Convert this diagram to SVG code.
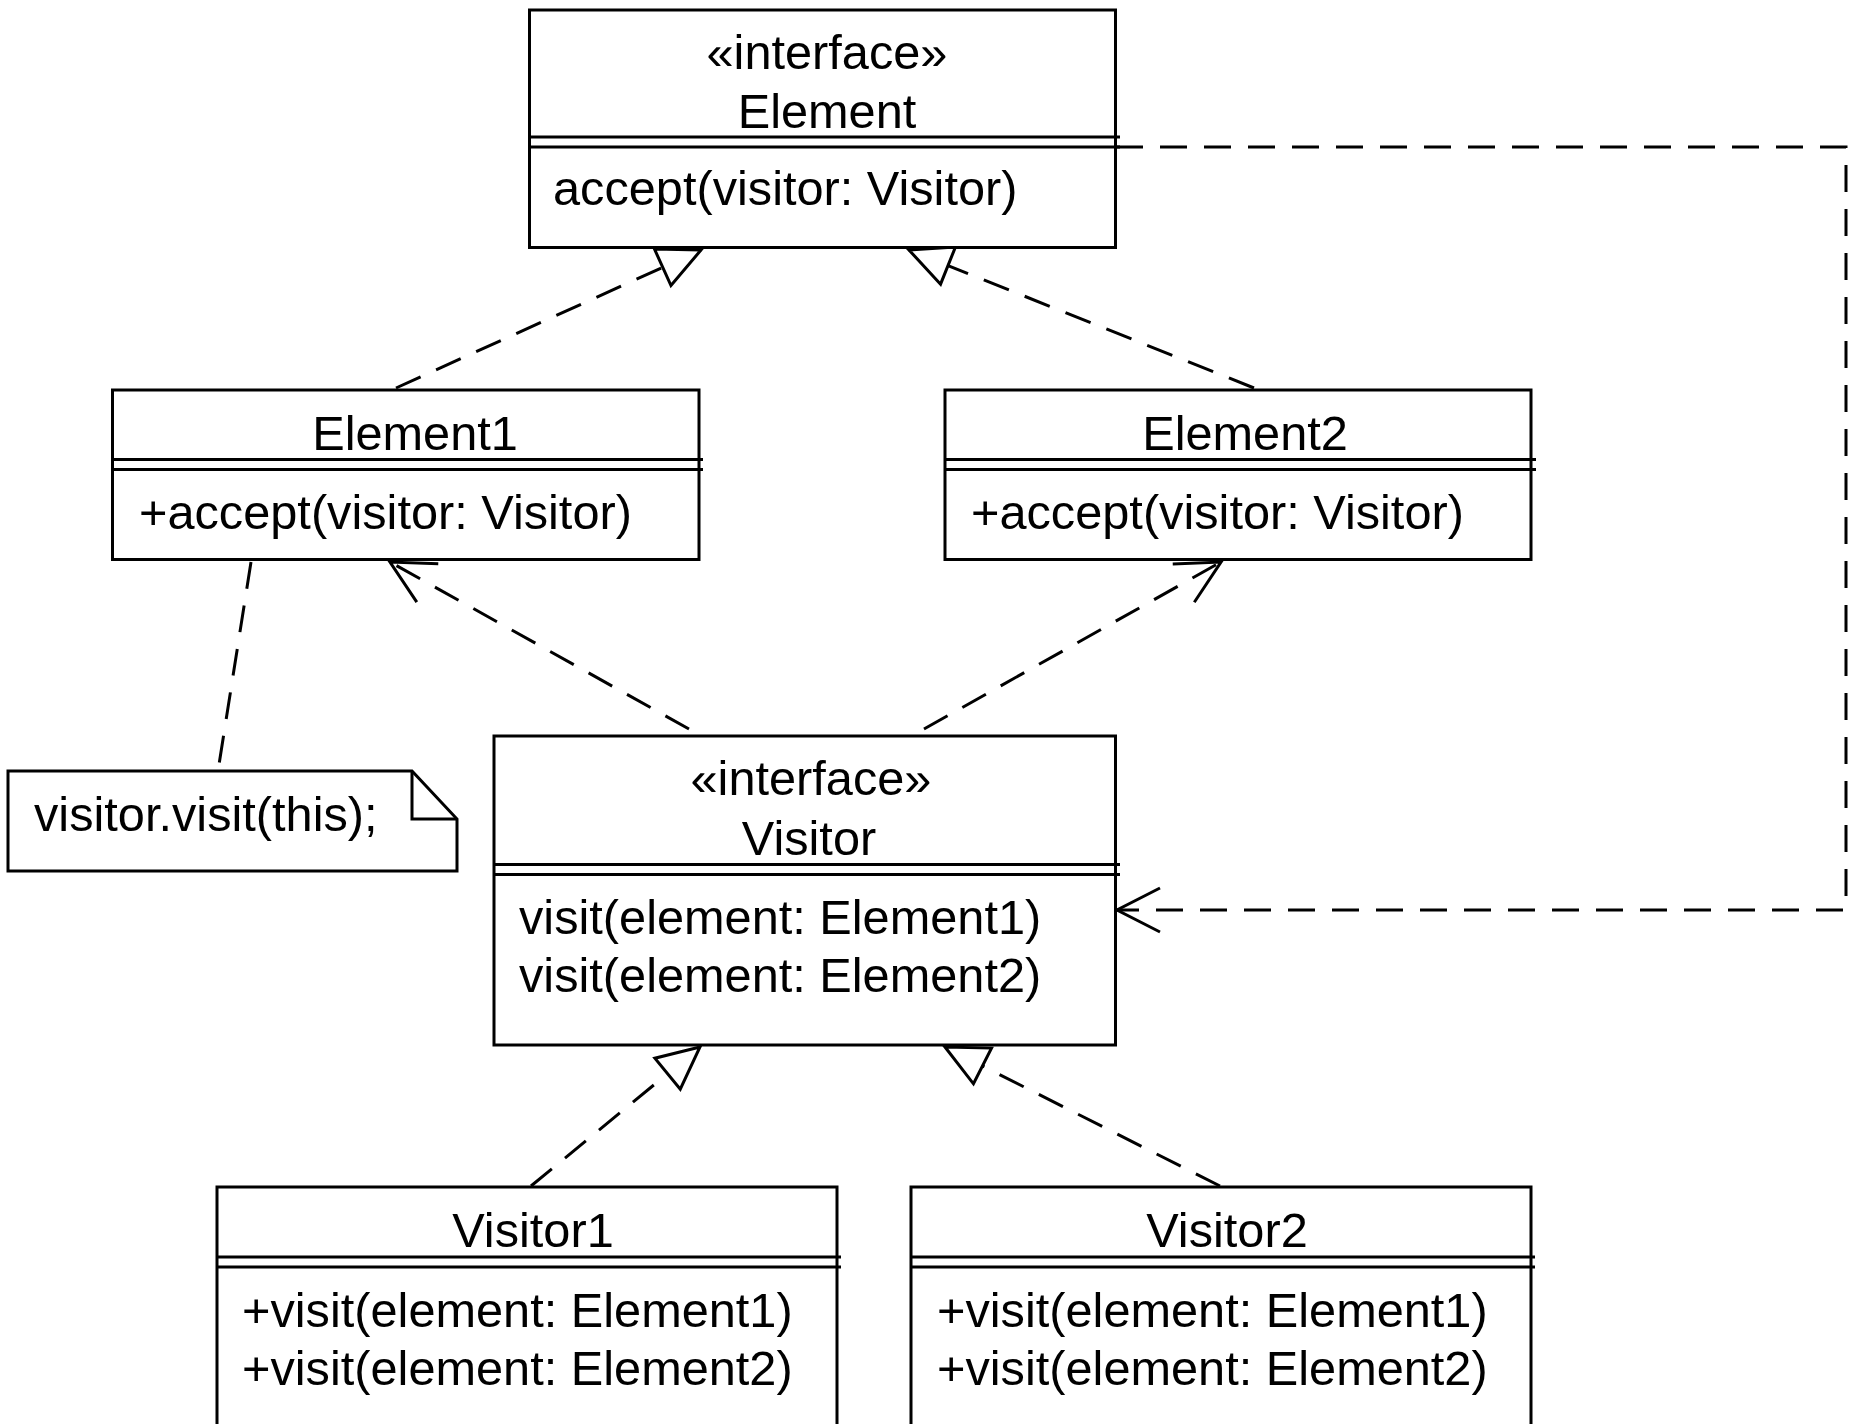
<svg xmlns="http://www.w3.org/2000/svg" width="1855" height="1424" viewBox="0 0 1855 1424">
  <style>
    .box { fill: #ffffff; stroke: #000000; stroke-width: 3; }
    .sep { stroke: #000000; stroke-width: 3; fill: none; }
    .txt { font-family: "Liberation Sans", Arial, sans-serif; font-size: 48.7px; fill: #000000; }
    .mid { text-anchor: middle; }
    .dash { fill: none; stroke: #000000; stroke-width: 3; stroke-dasharray: 27 17; }
  </style>
  <defs>
    <!-- hollow triangle for realization -->
    <marker id="realize" viewBox="-46 -24 50 48" markerWidth="50" markerHeight="48" refX="0" refY="0" markerUnits="userSpaceOnUse" orient="auto">
      <path d="M0,0 L-42,-20 L-42,20 Z" fill="#ffffff" stroke="#000000" stroke-width="3" stroke-linejoin="miter"/>
    </marker>
    <!-- open arrowhead for dependency -->
    <marker id="open" viewBox="-48 -26 52 52" markerWidth="52" markerHeight="52" refX="0" refY="0" markerUnits="userSpaceOnUse" orient="auto">
      <path d="M-43,-22 L0,0 L-43,22" fill="none" stroke="#000000" stroke-width="3"/>
    </marker>
  </defs>

  <rect x="0" y="0" width="1855" height="1424" fill="#ffffff"/>

  <g id="connectors">
    <path class="dash" d="M396,388 L701,250" marker-end="url(#realize)"/>
    <path class="dash" d="M1254,388 L909,250" marker-end="url(#realize)"/>
    <path class="dash" d="M689,729 L390,562" marker-end="url(#open)"/>
    <path class="dash" d="M924,729 L1221,562" marker-end="url(#open)"/>
    <path class="dash" d="M1116,147 L1846,147 L1846,910 L1117,910" marker-end="url(#open)"/>
    <path class="dash" d="M251,562 L218,771"/>
    <path class="dash" d="M531,1186 L700,1047" marker-end="url(#realize)"/>
    <path class="dash" d="M1220,1186 L945,1047" marker-end="url(#realize)"/>
  </g>

  <g id="element">
    <rect class="box" x="529.5" y="10" width="586" height="237.5"/>
    <path class="sep" d="M529.5,137 H1120 M529.5,147 H1120"/>
    <text class="txt mid" x="827" y="69">«interface»</text>
    <text class="txt mid" x="827" y="128">Element</text>
    <text class="txt" x="553" y="205">accept(visitor: Visitor)</text>
  </g>

  <g id="element1">
    <rect class="box" x="112.5" y="390" width="586.5" height="169.5"/>
    <path class="sep" d="M112.5,459.5 H703 M112.5,469.5 H703"/>
    <text class="txt mid" x="415" y="450">Element1</text>
    <text class="txt" x="139" y="529">+accept(visitor: Visitor)</text>
  </g>

  <g id="element2">
    <rect class="box" x="945" y="390" width="586" height="169.5"/>
    <path class="sep" d="M945,459.5 H1536 M945,469.5 H1536"/>
    <text class="txt mid" x="1245" y="450">Element2</text>
    <text class="txt" x="971" y="529">+accept(visitor: Visitor)</text>
  </g>

  <g id="note">
    <path class="box" d="M8,771 H412 L457,819 V871 H8 Z"/>
    <path class="sep" d="M412,771 V819 H457"/>
    <text class="txt" x="34" y="831">visitor.visit(this);</text>
  </g>

  <g id="visitor">
    <rect class="box" x="494" y="736" width="621.5" height="309"/>
    <path class="sep" d="M494,864.5 H1120 M494,874.5 H1120"/>
    <text class="txt mid" x="811" y="795">«interface»</text>
    <text class="txt mid" x="809" y="855">Visitor</text>
    <text class="txt" x="519" y="934">visit(element: Element1)</text>
    <text class="txt" x="519" y="992">visit(element: Element2)</text>
  </g>

  <g id="visitor1">
    <rect class="box" x="217" y="1187" width="620" height="260"/>
    <path class="sep" d="M217,1257 H841 M217,1267 H841"/>
    <text class="txt mid" x="533" y="1247">Visitor1</text>
    <text class="txt" x="242" y="1327">+visit(element: Element1)</text>
    <text class="txt" x="242" y="1385">+visit(element: Element2)</text>
  </g>

  <g id="visitor2">
    <rect class="box" x="911" y="1187" width="620" height="260"/>
    <path class="sep" d="M911,1257 H1535 M911,1267 H1535"/>
    <text class="txt mid" x="1227" y="1247">Visitor2</text>
    <text class="txt" x="937" y="1327">+visit(element: Element1)</text>
    <text class="txt" x="937" y="1385">+visit(element: Element2)</text>
  </g>
</svg>
